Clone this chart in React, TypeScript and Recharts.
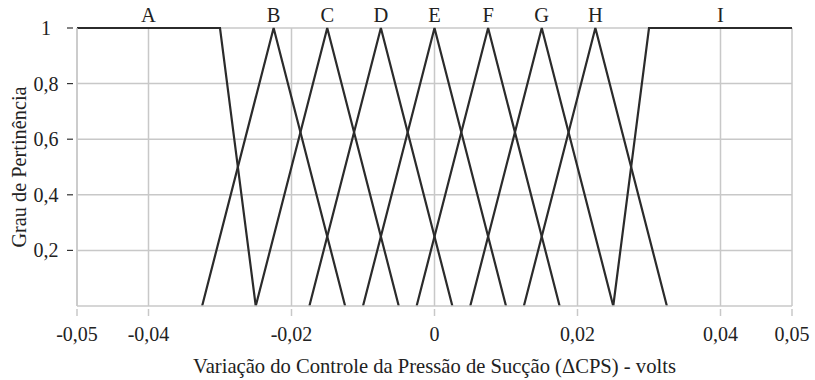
import React from 'react';
import { LineChart, Line, XAxis, YAxis, CartesianGrid, ReferenceDot, Label } from 'recharts';

const FONT = "'Liberation Serif', 'Times New Roman', serif";
const LINE_COLOR = '#2b2b2b';
const GRID_COLOR = '#c8c8c8';

// Membership function breakpoints (x in volts, y membership)
const setNames = ['A', 'B', 'C', 'D', 'E', 'F', 'G', 'H', 'I'];
const setA = { x: [-0.05, -0.03, -0.025], y: [1, 1, 0] };
const setB = { x: [-0.0325, -0.0225, -0.0125], y: [0, 1, 0] };
const setC = { x: [-0.025, -0.015, -0.005], y: [0, 1, 0] };
const setD = { x: [-0.0175, -0.0075, 0.0025], y: [0, 1, 0] };
const setE = { x: [-0.01, 0, 0.01], y: [0, 1, 0] };
const setF = { x: [-0.0025, 0.0075, 0.0175], y: [0, 1, 0] };
const setG = { x: [0.005, 0.015, 0.025], y: [0, 1, 0] };
const setH = { x: [0.0125, 0.0225, 0.0325], y: [0, 1, 0] };
const setI = { x: [0.025, 0.03, 0.05], y: [0, 1, 1] };
const sets = [setA, setB, setC, setD, setE, setF, setG, setH, setI];

// Label positions for set names (x at membership 1)
const labelX = [-0.04, -0.0225, -0.015, -0.0075, 0, 0.0075, 0.015, 0.0225, 0.04];

const xTicks = [-0.05, -0.04, -0.02, 0, 0.02, 0.04, 0.05];
const yTicks = [0.2, 0.4, 0.6, 0.8, 1];

const fmt = (v: number) => (v === 0 ? '0' : String(v).replace('.', ','));

const seriesData = sets.map((s) => s.x.map((x, i) => ({ x, y: s.y[i] })));

const SText = ({ size = 20, ...props }: any) => (
  <text fill="#222" style={{ fontFamily: FONT, fontSize: size }} {...props} />
);

const XTick = (props: any) => {
  const { x, y, payload } = props;
  return (
    <g>
      <line x1={x} x2={x} y1={y + 3} y2={y + 10} stroke={GRID_COLOR} strokeWidth={1.5} />
      <SText x={x} y={y + 35} textAnchor="middle">
        {fmt(payload.value)}
      </SText>
    </g>
  );
};

const YTick = (props: any) => {
  const { x, y, payload } = props;
  return (
    <g>
      <line x1={x - 10} x2={x - 4} y1={y} y2={y} stroke="#333" strokeWidth={1.2} />
      <SText x={x - 31} y={y} dy="0.35em" textAnchor="middle">
        {fmt(payload.value)}
      </SText>
    </g>
  );
};

const LetterLabel = (props: any) => {
  const { viewBox, value } = props;
  const cx = viewBox.x + (viewBox.width || 0) / 2;
  return (
    <SText x={cx} y={viewBox.y - 6} textAnchor="middle" size={20.5}>
      {value}
    </SText>
  );
};

export default function App() {
  return (
    <div style={{ position: 'absolute', left: 0, top: 0, background: '#fff' }}>
      <LineChart width={815} height={380} margin={{ top: 28, right: 23, bottom: 0, left: 0 }}>
        <CartesianGrid stroke={GRID_COLOR} strokeWidth={1.5} verticalValues={xTicks} horizontalValues={yTicks} />
        <XAxis
          type="number"
          dataKey="x"
          domain={[-0.05, 0.05]}
          ticks={xTicks}
          allowDataOverflow
          height={74}
          stroke={GRID_COLOR}
          strokeWidth={1.5}
          tickLine={false}
          tickSize={0}
          tickMargin={0}
          tick={<XTick />}
          interval={0}
        >
          <Label
            content={(p: any) => {
              const vb = p.viewBox;
              return (
                <SText x={vb.x + vb.width / 2} y={373} textAnchor="middle" size={20.6}>
                  Variação do Controle da Pressão de Sucção (ΔCPS) - volts
                </SText>
              );
            }}
          />
        </XAxis>
        <YAxis
          type="number"
          domain={[0, 1]}
          ticks={yTicks}
          width={77}
          stroke={GRID_COLOR}
          strokeWidth={1.5}
          tickLine={false}
          tickSize={0}
          tickMargin={0}
          tick={<YTick />}
          interval={0}
        >
          <Label
            content={(p: any) => {
              const vb = p.viewBox;
              const cy = vb.y + vb.height / 2;
              return (
                <SText x={26} y={cy} transform={`rotate(-90 26 ${cy})`} textAnchor="middle" size={20.3}>
                  Grau de Pertinência
                </SText>
              );
            }}
          />
        </YAxis>
        {seriesData.map((d, i) => (
          <Line
            key={setNames[i]}
            data={d}
            dataKey="y"
            type="linear"
            stroke={LINE_COLOR}
            strokeWidth={2.2}
            dot={false}
            activeDot={false}
            isAnimationActive={false}
          />
        ))}
        {setNames.map((n, i) => (
          <ReferenceDot
            key={'lbl' + n}
            x={labelX[i]}
            y={1}
            r={0}
            fill="none"
            stroke="none"
            ifOverflow="visible"
            label={<LetterLabel value={n} />}
          />
        ))}
      </LineChart>
    </div>
  );
}
